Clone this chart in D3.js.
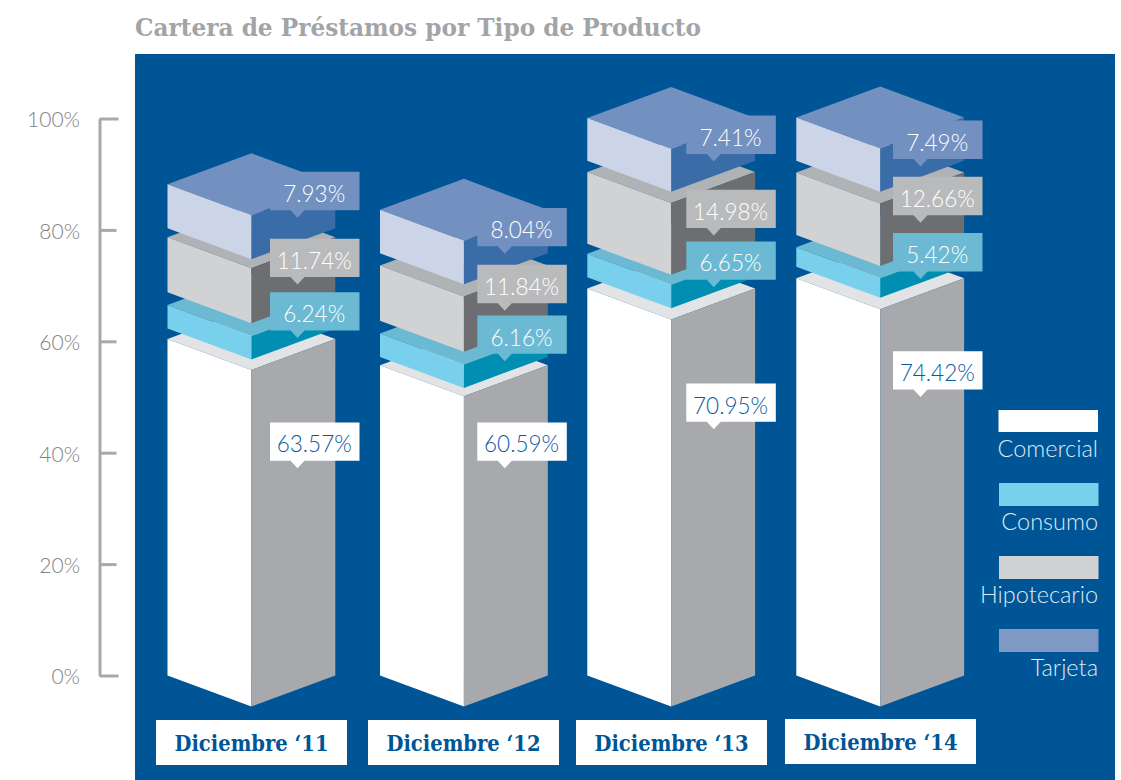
<!DOCTYPE html>
<html><head><meta charset="utf-8">
<script src="https://cdn.jsdelivr.net/npm/d3@7"></script>
<style>html,body{margin:0;padding:0;background:#fff}svg{display:block}</style>
</head><body><svg id="c" width="1121" height="780"></svg>
<script>
const chartTitle = "Cartera de Préstamos por Tipo de Producto";
const categories = ["Diciembre ‘11","Diciembre ‘12","Diciembre ‘13","Diciembre ‘14"];
const seriesNames = ["Comercial","Consumo","Hipotecario","Tarjeta"];
const axisTicks = [0,20,40,60,80,100];

// printed values
const comercial   = [63.57,60.59,70.95,74.42];
const consumo     = [6.24,6.16,6.65,5.42];
const hipotecario = [11.74,11.84,14.98,12.66];
const tarjeta     = [7.93,8.04,7.41,7.49];

// the block extents as drawn against the axis (the picture is not to scale with the printed values)
const comercialBase = [0,0,0,0];
const comercialTop  = [60.4,55.7,69.5,71.3];
const consumoBase   = [62.3,57.2,71.5,73.4];
const consumoTop    = [66.5,61.4,75.7,76.9];
const hipotecarioBase = [68.8,63.7,77.5,79.1];
const hipotecarioTop  = [78.7,73.6,90.4,90.3];
const tarjetaBase   = [80.3,75.8,92.4,92.4];
const tarjetaTop    = [88.2,83.6,100.1,100.2];

// level on the axis at which each callout's pointer ends
const comercialTip   = [37.2,37.2,44.2,50.0];
const consumoTip     = [60.6,56.4,69.7,71.2];
const hipotecarioTip = [70.2,65.5,79.0,81.3];
const tarjetaTip     = [82.2,75.7,92.3,91.4];

const svg = d3.select("#c");
const y = d3.scaleLinear().domain([0,100]).range([675.5,118.5]);
const xLeft = d3.scaleOrdinal().domain(categories).range([167.5,380,587.3,796.3]);
const calloutLeft = d3.scaleOrdinal().domain(categories).range([270,477.3,686.3,893]);
const labelLeft = d3.scaleOrdinal().domain(categories).range([156,368,576,785]);
const labelTop = d3.scaleOrdinal().domain(categories).range([720,720,720,719]);

const halfW = 83.9, depth = 31;
const numFont = "Lato, 'Open Sans', sans-serif";

svg.append("rect").attr("x",135).attr("y",54).attr("width",980).attr("height",726).attr("fill","#005596");

svg.append("text").attr("x",135).attr("y",36).attr("font-family","'DejaVu Serif', serif").attr("font-weight",700)
  .attr("font-size",25).attr("fill","#a2a4a7").attr("textLength",566).attr("lengthAdjust","spacingAndGlyphs").text(chartTitle);

// axis
const axis = svg.append("g").attr("transform","translate(99.5,0)")
  .call(d3.axisLeft(y).tickValues(axisTicks).tickFormat(d=>d+"%").tickSizeInner(-17).tickSizeOuter(0).tickPadding(19.5));
axis.select(".domain").attr("stroke","#a7a9ac").attr("stroke-width",3);
axis.selectAll(".tick line").attr("stroke","#a7a9ac").attr("stroke-width",3).attr("x2",d=>(d===0||d===100)?19:17);
axis.selectAll(".tick text").attr("font-family",numFont).attr("font-weight",300).attr("font-size",21).attr("fill","#808285").attr("dy","0.4em");

const layers = [
 {name:"Comercial", base:comercialBase, top:comercialTop, val:comercial, tip:comercialTip, cTop:"#e1e3e5", cFront:"#ffffff", cSide:"#a7a9ad", box:"#ffffff", txt:"#0b5a9e"},
 {name:"Consumo", base:consumoBase, top:consumoTop, val:consumo, tip:consumoTip, cTop:"#6bb9d3", cFront:"#79d0ec", cSide:"#008fb3", box:"#6bb9d3", txt:"#ffffff"},
 {name:"Hipotecario", base:hipotecarioBase, top:hipotecarioTop, val:hipotecario, tip:hipotecarioTip, cTop:"#b0b3b5", cFront:"#d1d2d4", cSide:"#6d6e72", box:"#b9babc", txt:"#ffffff"},
 {name:"Tarjeta", base:tarjetaBase, top:tarjetaTop, val:tarjeta, tip:tarjetaTip, cTop:"#7391c0", cFront:"#ccd5e8", cSide:"#3a6ca8", box:"#7391c0", txt:"#ffffff"}
];

const poly = pts => pts.map(p=>p.join(",")).join(" ");
categories.forEach((cat,i)=>{
  const l = xLeft(cat), m = l+halfW, r = l+2*halfW;
  const g = svg.append("g");
  layers.forEach(s=>{
    const t = y(s.top[i]), b = y(s.base[i]);
    g.append("polygon").attr("points",poly([[l,t],[m,t-depth],[r,t],[m,t+depth]])).attr("fill",s.cTop);
    g.append("polygon").attr("points",poly([[l,t],[m,t+depth],[m,b+depth],[l,b]])).attr("fill",s.cFront);
    g.append("polygon").attr("points",poly([[m,t+depth],[r,t],[r,b],[m,b+depth]])).attr("fill",s.cSide);
  });
});

const boxW = 89.5, boxH = 38.3, tipH = 7.5, tipHalf = 7;
categories.forEach((cat,i)=>{
  const x0 = calloutLeft(cat);
  layers.forEach(s=>{
    const tip = y(s.tip[i]), by = tip-tipH, ty = by-boxH, px = x0+27.5;
    svg.append("polygon").attr("points",poly([[x0,ty],[x0+boxW,ty],[x0+boxW,by],[px+tipHalf,by],[px,tip],[px-tipHalf,by],[x0,by]])).attr("fill",s.box);
    svg.append("text").attr("x",x0+boxW/2-0.5).attr("y",ty+30).attr("text-anchor","middle")
      .attr("font-family",numFont).attr("font-weight",300).attr("font-size",22.5).attr("fill",s.txt)
      .text(s.val[i].toFixed(2)+"%");
  });
  svg.append("rect").attr("x",labelLeft(cat)).attr("y",labelTop(cat)).attr("width",191).attr("height",45).attr("fill","#fff");
  svg.append("text").attr("x",labelLeft(cat)+95.5).attr("y",labelTop(cat)+31).attr("text-anchor","middle")
    .attr("font-family","'DejaVu Serif', serif").attr("font-weight",700).attr("font-size",22.5).attr("fill","#005596")
    .attr("textLength",154).attr("lengthAdjust","spacingAndGlyphs").text(cat);
});

// legend
const legendColors = ["#ffffff","#79d0ec","#d1d2d4","#8099c4"];
const legendY = d3.scalePoint().domain(seriesNames).range([410,629]);
seriesNames.forEach((n,i)=>{
  const yy = legendY(n);
  svg.append("rect").attr("x",i===0?998.5:999).attr("y",yy).attr("width",99.5).attr("height",i===0?22:23).attr("fill",legendColors[i]);
  svg.append("text").attr("x",1098).attr("y",yy+46.5).attr("text-anchor","end")
    .attr("font-family",numFont).attr("font-weight",300).attr("font-size",23.5).attr("fill","#dfeaf3").text(n);
});
</script></body></html>
